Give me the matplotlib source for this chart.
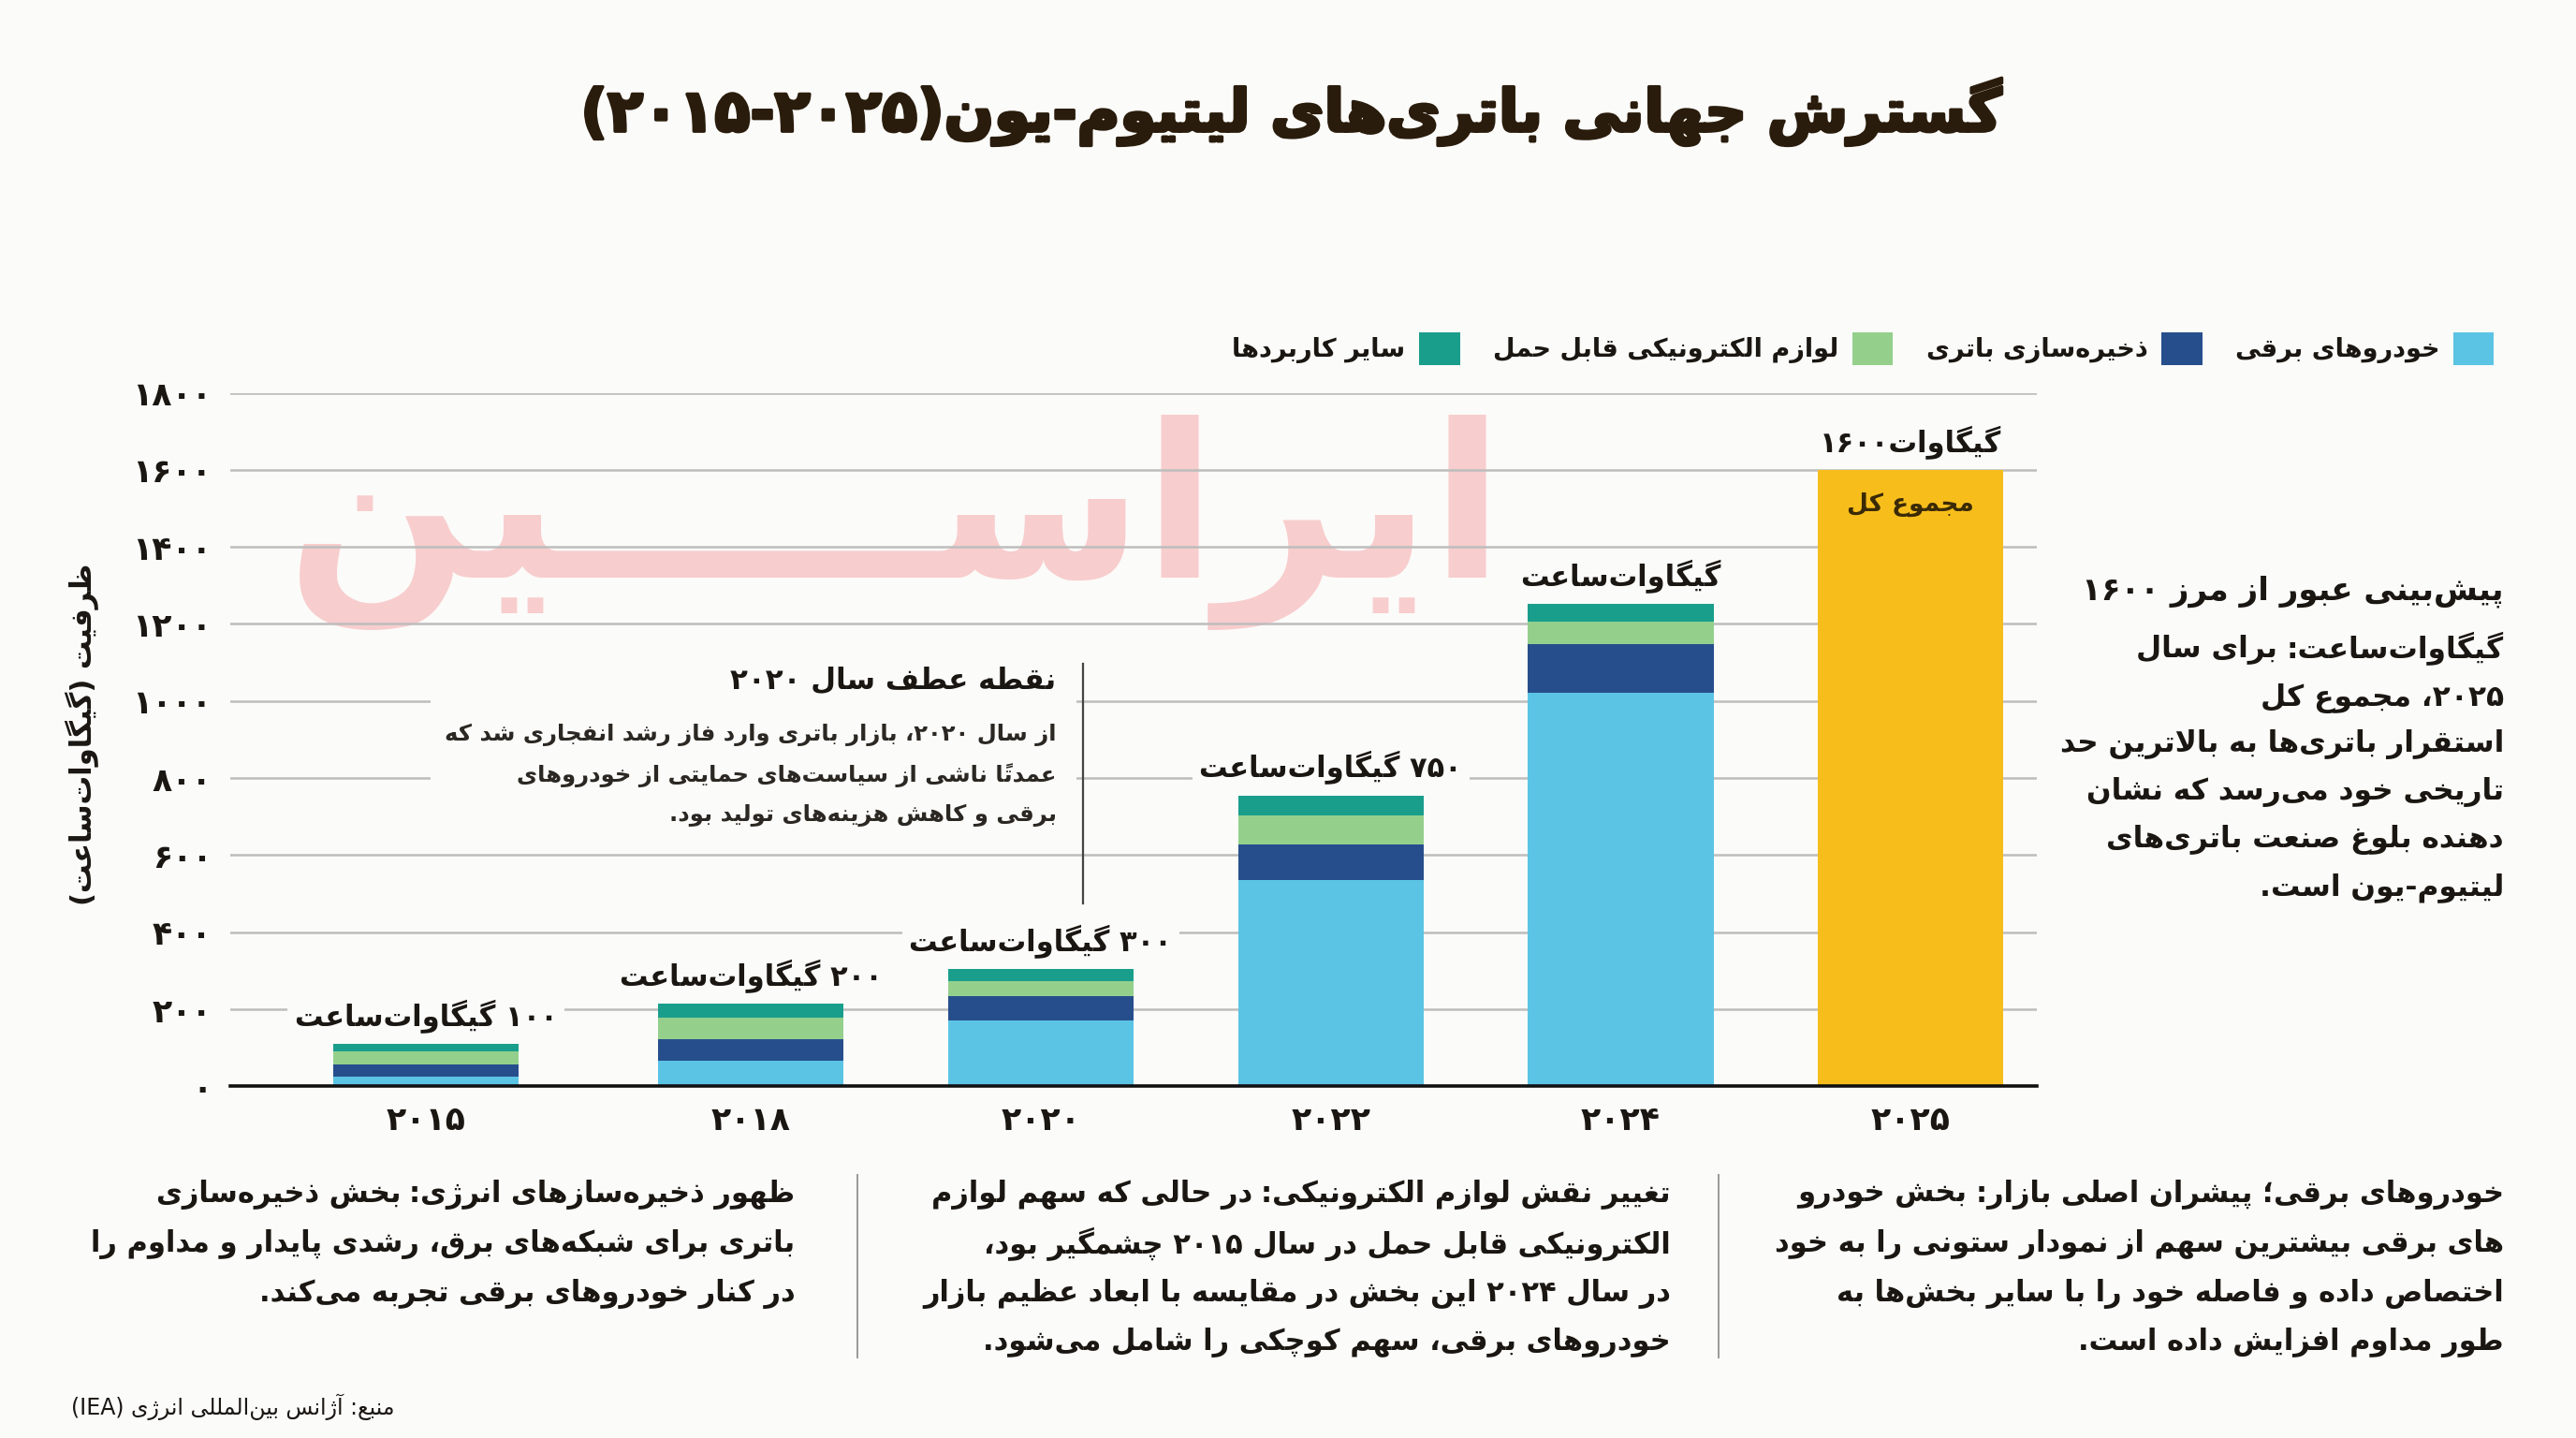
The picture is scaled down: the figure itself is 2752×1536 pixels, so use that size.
import matplotlib
matplotlib.use('Agg')
import matplotlib.pyplot as plt
import matplotlib.patheffects as pe
from matplotlib.patches import Rectangle, Patch
from matplotlib.lines import Line2D
import numpy as np

# ---------------- data ----------------
years = ['۲۰۱۵', '۲۰۱۸', '۲۰۲۰', '۲۰۲۲', '۲۰۲۴', '۲۰۲۵']
ev = [25, 67, 172, 536, 1022]
storage = [32, 56, 63, 91, 126]
electronics = [33, 56, 38, 76, 59]
other = [20, 35, 32, 52, 45]
forecast_total = 1600
series_names = ['خودروهای برقی', 'ذخیره\u200cسازی باتری', 'لوازم الکترونیکی قابل حمل', 'سایر کاربردها']
series_colors = ['#5BC4E4', '#274E8C', '#94D08C', '#1A9E8C']
forecast_color = '#F7BE1B'
bar_labels = ['۱۰۰ گیگاوات\u200cساعت', '۲۰۰ گیگاوات\u200cساعت', '۳۰۰ گیگاوات\u200cساعت',
              '۷۵۰ گیگاوات\u200cساعت', 'گیگاوات\u200cساعت', 'گیگاوات۱۶۰۰']
yticks = [0, 200, 400, 600, 800, 1000, 1200, 1400, 1600, 1800]

title = 'گسترش جهانی باتری\u200cهای لیتیوم-یون(۲۰۲۵-۲۰۱۵)'
ylabel = 'ظرفیت (گیگاوات\u200cساعت)'
inside_label = 'مجموع کل'
ann_title = 'نقطه عطف سال ۲۰۲۰'
ann_body = ['از سال ۲۰۲۰، بازار باتری وارد فاز رشد انفجاری شد که',
            'عمدتاً ناشی از سیاست\u200cهای حمایتی از خودروهای',
            'برقی و کاهش هزینه\u200cهای تولید بود.']
right_note = [[('پیش\u200cبینی عبور از مرز ۱۶۰۰', 'bold')],
              [('گیگاوات\u200cساعت:', 'bold'), ('برای سال', 'bold')],
              [('۲۰۲۵، مجموع کل', 'bold')],
              [('استقرار باتری\u200cها به بالاترین حد', 'bold')],
              [('تاریخی خود می\u200cرسد که نشان', 'bold')],
              [('دهنده بلوغ صنعت باتری\u200cهای', 'bold')],
              [('لیتیوم-یون است.', 'bold')]]
block_right = [[('خودروهای برقی؛ پیشران اصلی بازار:', 'bold'), ('بخش خودرو', 'bold')],
               [('های برقی بیشترین سهم از نمودار ستونی را به خود', 'bold')],
               [('اختصاص داده و فاصله خود را با سایر بخش\u200cها به', 'bold')],
               [('طور مداوم افزایش داده است.', 'bold')]]
block_mid = [[('تغییر نقش لوازم الکترونیکی:', 'bold'), ('در حالی که سهم لوازم', 'bold')],
             [('الکترونیکی قابل حمل در سال ۲۰۱۵ چشمگیر بود،', 'bold')],
             [('در سال ۲۰۲۴ این بخش در مقایسه با ابعاد عظیم بازار', 'bold')],
             [('خودروهای برقی، سهم کوچکی را شامل می\u200cشود.', 'bold')]]
block_left = [[('ظهور ذخیره\u200cسازهای انرژی:', 'bold'), ('بخش ذخیره\u200cسازی', 'bold')],
              [('باتری برای شبکه\u200cهای برق، رشدی پایدار و مداوم را', 'bold')],
              [('در کنار خودروهای برقی تجربه می\u200cکند.', 'bold')]]
source = 'منبع: آژانس بین\u200cالمللی انرژی (IEA)'
watermark = 'ایراس' + '\u0640' * 5 + 'ین'

# ---------------- minimal Persian shaping + RTL ordering ----------------
_DUAL = {
    'ب': 'FE8F FE90 FE91 FE92', 'پ': 'FB56 FB57 FB58 FB59', 'ت': 'FE95 FE96 FE97 FE98',
    'ث': 'FE99 FE9A FE9B FE9C', 'ج': 'FE9D FE9E FE9F FEA0', 'چ': 'FB7A FB7B FB7C FB7D',
    'ح': 'FEA1 FEA2 FEA3 FEA4', 'خ': 'FEA5 FEA6 FEA7 FEA8', 'س': 'FEB1 FEB2 FEB3 FEB4',
    'ش': 'FEB5 FEB6 FEB7 FEB8', 'ص': 'FEB9 FEBA FEBB FEBC', 'ض': 'FEBD FEBE FEBF FEC0',
    'ط': 'FEC1 FEC2 FEC3 FEC4', 'ظ': 'FEC5 FEC6 FEC7 FEC8', 'ع': 'FEC9 FECA FECB FECC',
    'غ': 'FECD FECE FECF FED0', 'ف': 'FED1 FED2 FED3 FED4', 'ق': 'FED5 FED6 FED7 FED8',
    'ک': 'FB8E FB8F FB90 FB91', 'گ': 'FB92 FB93 FB94 FB95', 'ل': 'FEDD FEDE FEDF FEE0',
    'م': 'FEE1 FEE2 FEE3 FEE4', 'ن': 'FEE5 FEE6 FEE7 FEE8', 'ه': 'FEE9 FEEA FEEB FEEC',
    'ی': 'FBFC FBFD FBFE FBFF', 'ئ': 'FE89 FE8A FE8B FE8C', 'ـ': '0640 0640 0640 0640',
}
_RIGHT = {
    'ا': 'FE8D FE8E', 'آ': 'FE81 FE82', 'أ': 'FE83 FE84', 'إ': 'FE87 FE88', 'ؤ': 'FE85 FE86',
    'د': 'FEA9 FEAA', 'ذ': 'FEAB FEAC', 'ر': 'FEAD FEAE', 'ز': 'FEAF FEB0', 'ژ': 'FB8A FB8B',
    'و': 'FEED FEEE', 'ة': 'FE93 FE94',
}
FORMS = {}
for k, v in _DUAL.items():
    FORMS[k] = tuple(chr(int(h, 16)) for h in v.split())
for k, v in _RIGHT.items():
    FORMS[k] = tuple(chr(int(h, 16)) for h in v.split()) + (None, None)
LAMALEF = {'ا': ('\uFEFB', '\uFEFC'), 'آ': ('\uFEF5', '\uFEF6'),
           'أ': ('\uFEF7', '\uFEF8'), 'إ': ('\uFEF9', '\uFEFA')}
MIRROR = {'(': ')', ')': '(', '[': ']', ']': '[', '«': '»', '»': '«'}
LTR_CHARS = set('0123456789۰۱۲۳۴۵۶۷۸۹')


def _is_mark(c):
    return '\u064B' <= c <= '\u065F' or c == '\u0670'


def _joins_left(c):
    return c in FORMS and FORMS[c][2] is not None


def shape(text):
    text = text.replace('ي', 'ی').replace('ك', 'ک')
    ch = list(text)
    n = len(ch)
    out = []
    i = 0
    while i < n:
        c = ch[i]
        if c in FORMS:
            j = i - 1
            while j >= 0 and _is_mark(ch[j]):
                j -= 1
            prev = ch[j] if j >= 0 else None
            k = i + 1
            while k < n and _is_mark(ch[k]):
                k += 1
            nxt = ch[k] if k < n else None
            cp = prev is not None and _joins_left(prev)
            if c == 'ل' and nxt in LAMALEF:
                out.append(LAMALEF[nxt][1] if cp else LAMALEF[nxt][0])
                out.extend(ch[i + 1:k])
                i = k + 1
                continue
            cn = nxt is not None and _joins_left(c) and nxt in FORMS
            iso, fin, ini, med = FORMS[c]
            if cp and cn:
                out.append(med)
            elif cp:
                out.append(fin)
            elif cn:
                out.append(ini)
            else:
                out.append(iso)
        elif c == '\u200c':
            pass
        else:
            out.append(c)
        i += 1
    return out


def visual(text):
    clusters = []
    for g in shape(text):
        if _is_mark(g) and clusters:
            clusters[-1] += g
        else:
            clusters.append(g)
    runs = []
    for cl in clusters:
        c0 = cl[0]
        t = 'L' if (c0 in LTR_CHARS or (c0.isascii() and c0.isalpha())) else 'R'
        if runs and runs[-1][0] == t:
            runs[-1][1].append(cl)
        else:
            runs.append([t, [cl]])
    out = []
    for t, cls in reversed(runs):
        if t == 'L':
            out += cls
        else:
            out += [MIRROR.get(c, c) for c in reversed(cls)]
    return ''.join(out)


# ---------------- layout helpers ----------------
plt.rcParams['font.family'] = ['DejaVu Sans']
BG = '#FBFBF9'
DARK = '#1A1612'
W, H = 1568.0, 875.0


def fx(x):
    return x / W


def fy(y):
    return 1 - y / H


fig = plt.figure(figsize=(27.52, 15.36), dpi=100, facecolor=BG)
renderer = fig.canvas.get_renderer()
FIG_W_PX = fig.get_size_inches()[0] * fig.dpi


def rtl_line(xr, yd, parts, size, color=DARK):
    x = fx(xr)
    for txt, wt in parts:
        t = fig.text(x, fy(yd), visual(txt), ha='right', va='center',
                     fontsize=size, fontweight=wt, color=color)
        w = t.get_window_extent(renderer).width / FIG_W_PX
        x -= w + size * 0.3 * fig.dpi / 72 / FIG_W_PX


# watermark (behind everything)
fig.text(fx(545), fy(318), visual(watermark), fontsize=165, fontweight='bold',
         color='#F8CDCD', ha='center', va='center', zorder=-5)

# ---------------- axes ----------------
ax = fig.add_axes([fx(140), fy(661), fx(1240) - fx(140), fy(239) - fy(661)])
ax.set_facecolor('none')
xpos = np.array([-0.12, 1, 2, 3, 4, 5])
width = 0.64

bottom = np.zeros(len(ev))
for vals, name, col in zip([ev, storage, electronics, other], series_names, series_colors):
    ax.bar(xpos[:5], vals, width, bottom=bottom, color=col, zorder=2, linewidth=0)
    bottom += np.array(vals)
ax.bar(xpos[5], forecast_total, width, color=forecast_color, zorder=2, linewidth=0)
totals = list(bottom) + [forecast_total]

for xp, tot, lab in zip(xpos, totals, bar_labels):
    ax.annotate(visual(lab), (xp, tot), xytext=(0, 21), textcoords='offset points',
                ha='center', va='center', fontsize=22, fontweight='bold', color=DARK,
                bbox=dict(boxstyle='square,pad=0.25', fc=BG, ec='none'), zorder=4)
ax.annotate(visual(inside_label), (xpos[5], forecast_total), xytext=(0, -27),
            textcoords='offset points', ha='center', va='center', fontsize=19,
            fontweight='bold', color='#3A2A05', zorder=4)

ax.set_xlim(-0.796, 5.436)
ax.set_ylim(0, 1800)
ax.set_yticks(yticks)
ax.set_yticklabels([visual(str(v).translate(str.maketrans('0123456789', '۰۱۲۳۴۵۶۷۸۹'))) for v in yticks],
                   fontweight='bold', fontsize=25, color=DARK)
ax.set_xticks(xpos)
ax.set_xticklabels([visual(y) for y in years], fontweight='bold', fontsize=25, color=DARK)
ax.tick_params(axis='y', length=0, pad=14)
ax.tick_params(axis='x', length=0, pad=14)
ax.yaxis.grid(True, color='#BDBDBD', lw=1.8)
ax.set_axisbelow(True)
for s in ['left', 'right', 'top']:
    ax.spines[s].set_visible(False)
ax.spines['bottom'].set_color('#111111')
ax.spines['bottom'].set_linewidth(2.6)
ax.spines['bottom'].set_zorder(3)

# legend (RTL: marker on the right of each label)
handles = [Patch(facecolor=c, edgecolor='none') for c in series_colors]
labels = [visual(n) for n in series_names]
leg = fig.legend(handles[::-1], labels[::-1], ncol=4, markerfirst=False, frameon=False,
                 loc='center right', bbox_to_anchor=(fx(1532), fy(212)),
                 prop={'weight': 'bold', 'size': 19.5}, handlelength=1.6, handleheight=1.6,
                 handletextpad=0.55, columnspacing=1.3)
for t in leg.get_texts():
    t.set_color(DARK)

# title and y label
fig.text(fx(786), fy(68), visual(title), ha='center', va='center', fontsize=45,
         fontweight='bold', color='#2A1C0C',
         path_effects=[pe.withStroke(linewidth=2.5, foreground='#2A1C0C')])
fig.text(fx(50), fy(447), visual(ylabel), ha='center', va='center', rotation=90,
         fontsize=22, fontweight='bold', color=DARK)

# 2020 annotation with mask box and pointer line
fig.add_artist(Rectangle((fx(262), fy(512)), fx(655) - fx(262), fy(395) - fy(512),
                         transform=fig.transFigure, fc=BG, ec='none', zorder=1))
fig.add_artist(Line2D([fx(659), fx(659)], [fy(404), fy(550)], transform=fig.transFigure,
                      color='#444444', lw=1.6, zorder=2))
rtl_line(643, 414, [(ann_title, 'bold')], 22.3)
for i, line in enumerate(ann_body):
    rtl_line(643, 447 + i * 24.5, [(line, 'bold')], 17.5, color='#2B2722')

# right-hand note
note_y = [360, 395, 425, 453, 482, 511, 540]
for yy, parts in zip(note_y, right_note):
    rtl_line(1524, yy, parts, 24.5 if yy == 360 else 22.5)

# bottom blocks and separators
for xr, block in [(1524, block_right), (1017, block_mid), (484, block_left)]:
    for i, parts in enumerate(block):
        rtl_line(xr, 727 + i * 30, parts, 22)
for xs in [522, 1046]:
    fig.add_artist(Line2D([fx(xs), fx(xs)], [fy(715), fy(826)], transform=fig.transFigure,
                          color='#9A9A9A', lw=1.4))

fig.text(fx(240), fy(856), visual(source), ha='right', va='center', fontsize=17, color=DARK)

fig.savefig('out.png', dpi=100, facecolor=BG)
